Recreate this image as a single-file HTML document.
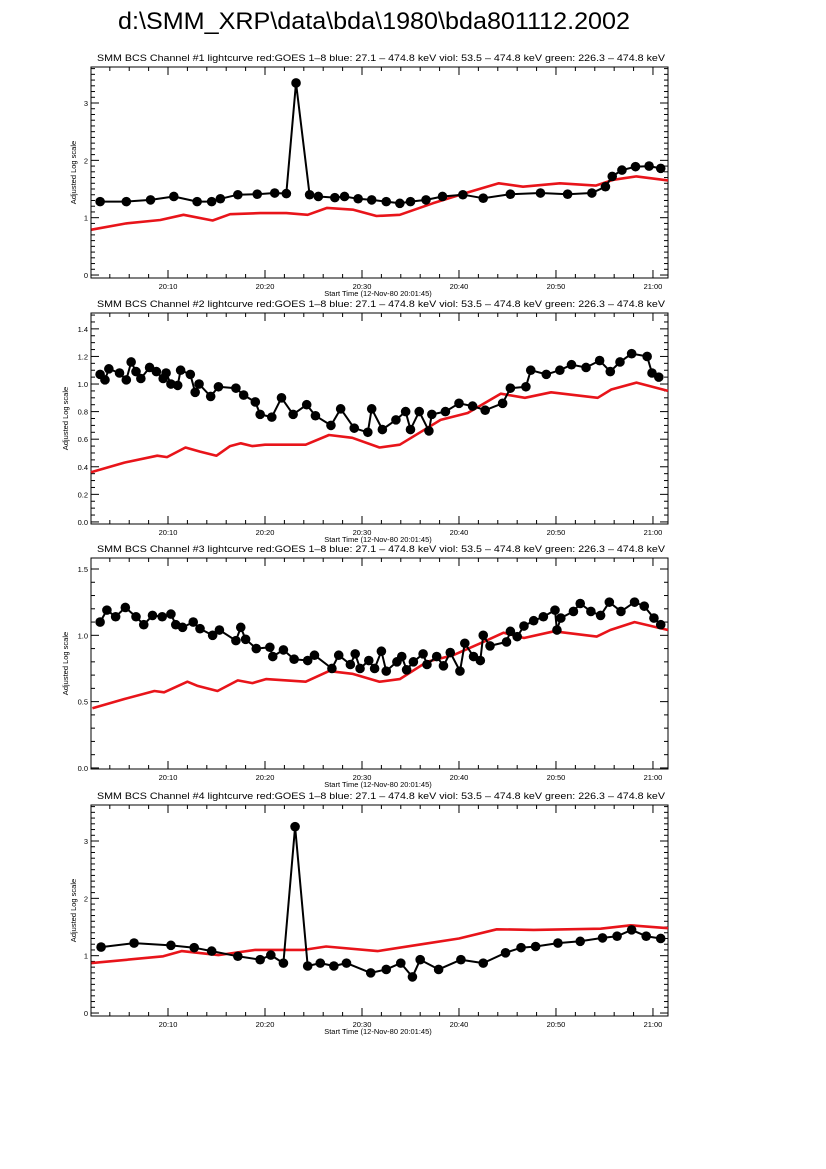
<!DOCTYPE html>
<html><head><meta charset="utf-8"><style>
html,body{margin:0;padding:0;background:#fff;}
svg{display:block;font-family:"Liberation Sans",sans-serif;}
</style></head><body>
<svg id="chart" width="826" height="1169" viewBox="0 0 826 1169" xmlns="http://www.w3.org/2000/svg">
<text x="118" y="29" font-size="24" textLength="512" lengthAdjust="spacingAndGlyphs">d:\SMM_XRP\data\bda\1980\bda801112.2002</text>
</svg>
<script>
// time in minutes after 20:00
const b1t=[3,5.7,8.2,10.6,13,14.5,15.4,17.2,19.2,21,22.2,23.2,24.6,25.5,27.2,28.2,29.6,31,32.5,33.9,35,36.6,38.3,40.4,42.5,45.3,48.4,51.2,53.7,55.1,55.8,56.8,58.2,59.6,60.8];
const b1v=[1.28,1.28,1.31,1.37,1.28,1.28,1.33,1.40,1.41,1.43,1.42,3.35,1.40,1.37,1.35,1.37,1.33,1.31,1.28,1.25,1.28,1.31,1.37,1.40,1.34,1.41,1.43,1.41,1.43,1.54,1.72,1.83,1.89,1.90,1.86];
const r1t=[2.1,5.7,9.2,11.6,14.6,16.4,19.5,22.2,24.4,26.4,29.1,31.5,33.9,37.3,40.7,44.1,46.6,50.4,54.1,55.9,58.3,61.6];
const r1v=[0.79,0.90,0.96,1.05,0.95,1.06,1.08,1.08,1.05,1.17,1.14,1.03,1.05,1.25,1.43,1.60,1.54,1.60,1.56,1.66,1.72,1.65];

const b2t=[3,3.5,3.9,5,5.7,6.2,6.7,7.2,8.1,8.8,9.5,9.8,10.3,11,11.3,12.3,12.8,13.2,14.4,15.2,17,17.8,19,19.5,20.7,21.7,22.9,24.3,25.2,26.8,27.8,29.2,30.6,31,32.1,33.5,34.5,35,35.9,36.9,37.2,38.6,40,41.4,42.7,44.5,45.3,46.9,47.4,49,50.4,51.6,53.1,54.5,55.6,56.6,57.8,59.4,59.9,60.6];
const b2v=[1.07,1.03,1.11,1.08,1.03,1.16,1.09,1.04,1.12,1.09,1.04,1.08,1.00,0.99,1.10,1.07,0.94,1.00,0.91,0.98,0.97,0.92,0.87,0.78,0.76,0.90,0.78,0.85,0.77,0.70,0.82,0.68,0.65,0.82,0.67,0.74,0.80,0.67,0.80,0.66,0.78,0.80,0.86,0.84,0.81,0.86,0.97,0.98,1.10,1.07,1.10,1.14,1.12,1.17,1.09,1.16,1.22,1.20,1.08,1.05];
const r2t=[2,5.5,8.9,9.9,11.8,13.3,15,16.4,17.5,18.7,20,24.2,26.6,29,31.8,33.9,36.7,38.1,40.9,44.3,46.8,49.5,54.3,55.7,58.3,61.7];
const r2v=[0.36,0.43,0.48,0.47,0.54,0.51,0.48,0.55,0.57,0.55,0.56,0.56,0.63,0.61,0.54,0.56,0.68,0.74,0.79,0.93,0.90,0.94,0.90,0.96,1.01,0.95];

const b3t=[3,3.7,4.6,5.6,6.7,7.5,8.4,9.4,10.3,10.8,11.5,12.6,13.3,14.6,15.3,17,17.5,18,19.1,20.5,20.8,21.9,23,24.4,25.1,26.9,27.6,28.8,29.3,29.8,30.7,31.3,32,32.5,33.6,34.1,34.6,35.3,36.3,36.7,37.7,38.4,39.1,40.1,40.6,41.5,42.2,42.5,43.2,44.9,45.3,46,46.7,47.7,48.7,49.9,50.1,50.5,51.8,52.5,53.6,54.6,55.5,56.7,58.1,59.1,60.1,60.8];
const b3v=[1.10,1.19,1.14,1.21,1.14,1.08,1.15,1.14,1.16,1.08,1.06,1.10,1.05,1.00,1.04,0.96,1.06,0.97,0.90,0.91,0.84,0.89,0.82,0.81,0.85,0.75,0.85,0.78,0.86,0.75,0.81,0.75,0.88,0.73,0.80,0.84,0.74,0.80,0.86,0.78,0.84,0.77,0.87,0.73,0.94,0.84,0.81,1.00,0.92,0.95,1.03,0.99,1.07,1.11,1.14,1.19,1.04,1.13,1.18,1.24,1.18,1.15,1.25,1.18,1.25,1.22,1.13,1.08];
const r3t=[2.2,5.5,8.6,9.6,12,13,15.1,17.2,18.7,20.1,24.2,26.6,29,31.8,33.9,36.7,39.4,42.2,44.6,46.7,49.8,54.2,55.6,58.1,61.6];
const r3v=[0.45,0.52,0.58,0.57,0.65,0.62,0.58,0.66,0.64,0.67,0.65,0.73,0.71,0.65,0.67,0.80,0.85,0.94,1.02,0.98,1.03,0.99,1.04,1.10,1.04];

const b4t=[3.1,6.5,10.3,12.7,14.5,17.2,19.5,20.6,21.9,23.1,24.4,25.7,27.1,28.4,30.9,32.5,34,35.2,36,37.9,40.2,42.5,44.8,46.4,47.9,50.2,52.5,54.8,56.3,57.8,59.3,60.8];
const b4v=[1.15,1.22,1.18,1.14,1.08,0.99,0.93,1.01,0.87,3.25,0.82,0.87,0.82,0.87,0.70,0.76,0.87,0.63,0.93,0.76,0.93,0.87,1.05,1.14,1.16,1.22,1.25,1.31,1.34,1.45,1.34,1.30];
const r4t=[2.1,9.5,11.4,15.2,19,24,26.3,31.6,36.2,40,43.9,47.7,54.6,57.7,61.7];
const r4v=[0.87,0.99,1.08,1.01,1.10,1.10,1.16,1.08,1.20,1.30,1.46,1.45,1.47,1.53,1.48];

const xTickLabels=["20:10","20:20","20:30","20:40","20:50","21:00"];
const xTickTimes=[10,20,30,40,50,60];

const NS="http://www.w3.org/2000/svg";
const svg=document.getElementById('chart');
const L=91,R=668,T0=2.06,T1=61.55;
function xs(t){return L+(t-T0)/(T1-T0)*(R-L);}
function mk(tag,attrs,parent){const e=document.createElementNS(NS,tag);for(const k in attrs)e.setAttribute(k,attrs[k]);(parent||svg).appendChild(e);return e;}

const panels=[
 {n:1,top:67,ymin:-0.052,ymax:3.628,major:1,minor:0.1,dec:0,ytx:76,bt:b1t,bv:b1v,rt:r1t,rv:r1v},
 {n:2,top:313,ymin:-0.015,ymax:1.515,major:0.2,minor:0.05,dec:1,ytx:68,bt:b2t,bv:b2v,rt:r2t,rv:r2v},
 {n:3,top:558,ymin:-0.008,ymax:1.583,major:0.5,minor:0.1,dec:1,ytx:68,bt:b3t,bv:b3v,rt:r3t,rv:r3v},
 {n:4,top:805,ymin:-0.052,ymax:3.628,major:1,minor:0.1,dec:0,ytx:76,bt:b4t,bv:b4v,rt:r4t,rv:r4v}
];
panels.forEach(p=>{
 const H=211,top=p.top,bot=top+H;
 const ys=v=>bot-(v-p.ymin)/(p.ymax-p.ymin)*H;
 const g=mk('g',{});
 
 
 const tt=mk('text',{x:97,y:top-6,'font-size':9.5,textLength:568,lengthAdjust:'spacingAndGlyphs'},g);
 tt.textContent='SMM BCS Channel #'+p.n+' lightcurve  red:GOES 1\u20138  blue: 27.1 \u2013 474.8 keV  viol: 53.5 \u2013 474.8 keV  green: 226.3 \u2013 474.8 keV';
 
 
 const box=mk('rect',{x:L,y:top,width:R-L,height:H,fill:'none',stroke:'#000','stroke-width':1},g);
 
 
 for(let t=4;t<=60;t+=2){
  const x=xs(t),len=(t%10===0)?8:4;
  mk('line',{x1:x,x2:x,y1:bot,y2:bot-len,stroke:'#000'},g);
  mk('line',{x1:x,x2:x,y1:top,y2:top+len,stroke:'#000'},g);
 }
 xTickTimes.forEach((t,i)=>{
  const lb=mk('text',{x:xs(t),y:bot+11,'font-size':7.5,'text-anchor':'middle'},g);
  lb.textContent=xTickLabels[i];
  
  
 });
 const xt=mk('text',{x:378,y:bot+18,'font-size':7.5,'text-anchor':'middle'},g);
 xt.textContent='Start Time (12-Nov-80 20:01:45)';
 
 
 const nMinor=Math.round(p.major/p.minor);
 for(let k=0;;k++){
  const v=k*p.minor; if(v>p.ymax)break;
  const y=ys(v),isMaj=(k%nMinor===0),len=isMaj?8:4;
  mk('line',{x1:L,x2:L+len,y1:y,y2:y,stroke:'#000'},g);
  mk('line',{x1:R,x2:R-len,y1:y,y2:y,stroke:'#000'},g);
  if(isMaj){
   const lb=mk('text',{x:L-3,y:y+3,'font-size':7.5,'text-anchor':'end'},g);
   lb.textContent=v.toFixed(p.dec);
   
   
  }
 }
 const yt=mk('text',{x:0,y:0,'font-size':7.5,'text-anchor':'middle',transform:`translate(${p.ytx},${top+H/2}) rotate(-90)`},g);
 yt.textContent='Adjusted Log scale';
 
 
 const rp=p.rt.map((t,i)=>xs(Math.max(T0,Math.min(T1,t))).toFixed(1)+','+ys(p.rv[i]).toFixed(1)).join(' ');
 const red=mk('polyline',{points:rp,fill:'none',stroke:'#e8141a','stroke-width':2.6,'stroke-linejoin':'round'},g);
 
 
 const bp=p.bt.map((t,i)=>xs(t).toFixed(1)+','+ys(p.bv[i]).toFixed(1)).join(' ');
 const bl=mk('polyline',{points:bp,fill:'none',stroke:'#000','stroke-width':2,'stroke-linejoin':'round'},g);
 
 
 p.bt.forEach((t,i)=>{
  const c=mk('circle',{cx:xs(t),cy:ys(p.bv[i]),r:4.8,fill:'#000'},g);
  
  
 });
});
</script>
</body></html>
